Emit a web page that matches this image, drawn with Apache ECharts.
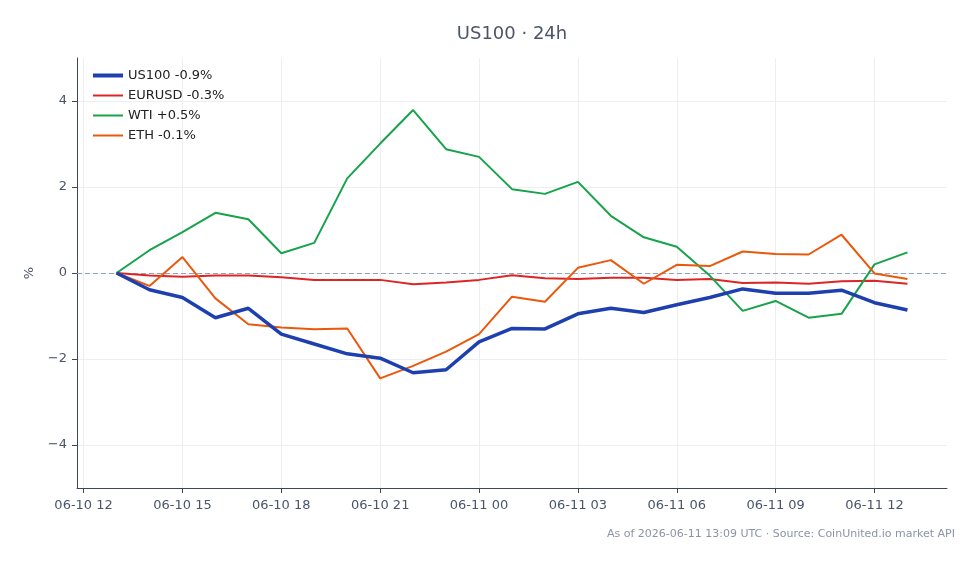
<!DOCTYPE html>
<html>
<head>
<meta charset="utf-8">
<title>US100 · 24h</title>
<script src="https://cdn.jsdelivr.net/npm/echarts@6/dist/echarts.min.js"></script>
<style>
    html, body { margin: 0; padding: 0; background: #fff; }
    #chart { width: 979px; height: 564px; }
</style>
</head>
<body>
<div id="chart"></div>
<script>
// hours counted from 2026-06-10 00:00 UTC, one point per hour
var hours = [13, 14, 15, 16, 17, 18, 19, 20, 21, 22, 23, 24, 25, 26, 27, 28, 29, 30, 31, 32, 33, 34, 35, 36, 37];

var us100 = [0, -0.39, -0.57, -1.04, -0.82, -1.42, -1.65, -1.88, -1.98, -2.32, -2.25, -1.60, -1.29, -1.30, -0.95, -0.82, -0.92, -0.74, -0.57, -0.37, -0.47, -0.47, -0.40, -0.69, -0.86];
var eurusd = [0, -0.06, -0.09, -0.06, -0.06, -0.10, -0.16, -0.16, -0.16, -0.26, -0.22, -0.16, -0.05, -0.12, -0.14, -0.11, -0.11, -0.16, -0.14, -0.23, -0.22, -0.25, -0.19, -0.18, -0.25];
var wti = [0, 0.53, 0.95, 1.40, 1.25, 0.46, 0.70, 2.20, 3.01, 3.79, 2.88, 2.70, 1.95, 1.84, 2.12, 1.33, 0.83, 0.61, -0.06, -0.88, -0.65, -1.04, -0.95, 0.20, 0.48];
var eth = [0, -0.30, 0.37, -0.59, -1.19, -1.27, -1.31, -1.29, -2.45, -2.16, -1.83, -1.42, -0.55, -0.67, 0.12, 0.30, -0.25, 0.19, 0.16, 0.50, 0.44, 0.43, 0.89, -0.01, -0.14];

var seriesNames = ['US100 -0.9%', 'EURUSD -0.3%', 'WTI +0.5%', 'ETH -0.1%'];
var seriesColors = ['#1e40af', '#dc2626', '#16a34a', '#ea580c'];
var seriesWidths = [3.5, 2, 2, 2];

var xTicks = [12, 15, 18, 21, 24, 27, 30, 33, 36];
var xTickLabels = ['06-10 12', '06-10 15', '06-10 18', '06-10 21', '06-11 00', '06-11 03', '06-11 06', '06-11 09', '06-11 12'];
var yTicks = [-4, -2, 0, 2, 4];

function pairs(vals) {
    var out = [];
    for (var i = 0; i < hours.length; i++) {
        out.push([hours[i], vals[i]]);
    }
    return out;
}

function makeLine(idx, vals, z) {
    return {
        name: seriesNames[idx],
        type: 'line',
        data: pairs(vals),
        symbol: 'none',
        z: z,
        color: seriesColors[idx],
        lineStyle: { color: seriesColors[idx], width: seriesWidths[idx] }
    };
}

// flat bar icons for the legend, thickness follows the line width
var legendData = [];
for (var i = 0; i < seriesNames.length; i++) {
    legendData.push({
        name: seriesNames[i],
        icon: 'path://M0,0H30V' + (seriesWidths[i] + (i == 0 ? 0.5 : 0)) + 'H0Z'
    });
}

var textCol = '#4a5568';
var axisCol = '#3d4758';

var chart = echarts.init(document.getElementById('chart'));
var line0 = makeLine(0, us100, 5);
line0.markLine = {
    silent: true,
    symbol: 'none',
    label: { show: false },
    lineStyle: { color: '#8fa3c0', type: [5, 3], width: 1 },
    data: [{ yAxis: 0 }],
    z: 1
};

chart.setOption({
    animation: false,
    textStyle: { fontFamily: 'DejaVu Sans' },
    title: {
        text: 'US100 · 24h',
        left: 507,
        top: 20,
        textAlign: 'center',
        textStyle: { fontSize: 18, fontWeight: 'normal', color: textCol, fontFamily: 'DejaVu Sans' }
    },
    graphic: [{
        type: 'text',
        right: 24,
        top: 529,
        style: {
            text: 'As of 2026-06-11 13:09 UTC · Source: CoinUnited.io market API',
            fill: '#8a94a6',
            font: '11px DejaVu Sans'
        }
    }],
    legend: {
        left: 88,
        top: 64,
        orient: 'vertical',
        itemGap: 7,
        itemWidth: 30,
        itemHeight: 12.5,
        textStyle: { fontSize: 13, color: '#222', fontFamily: 'DejaVu Sans' },
        data: legendData
    },
    grid: { left: 77, right: 32, top: 58, bottom: 76 },
    xAxis: {
        type: 'value',
        min: 11.8,
        max: 38.2,
        axisLine: { show: true, onZero: false, lineStyle: { color: axisCol, width: 1 } },
        axisTick: { show: true, customValues: xTicks, length: 5, lineStyle: { color: axisCol } },
        axisLabel: {
            customValues: xTicks,
            margin: 11,
            fontSize: 13,
            color: textCol,
            formatter: function (v) {
                var k = xTicks.indexOf(Math.round(v));
                return k >= 0 ? xTickLabels[k] : '';
            }
        },
        splitLine: { show: true, lineStyle: { color: '#eceef2', width: 1 } }
    },
    yAxis: {
        type: 'value',
        min: -5,
        max: 5,
        name: '%',
        nameLocation: 'middle',
        nameGap: 41,
        nameTextStyle: { fontSize: 13, color: textCol },
        axisLine: { show: true, onZero: false, lineStyle: { color: axisCol, width: 1 } },
        axisTick: { show: true, customValues: yTicks, length: 5, lineStyle: { color: axisCol } },
        axisLabel: {
            customValues: yTicks,
            margin: 10,
            fontSize: 13,
            color: textCol,
            formatter: function (v) {
                return String(v).replace('-', '\u2212');
            }
        },
        splitLine: { show: true, lineStyle: { color: '#eceef2', width: 1 } }
    },
    series: [
        line0,
        makeLine(1, eurusd, 3),
        makeLine(2, wti, 3),
        makeLine(3, eth, 3)
    ]
});
</script>
</body>
</html>
